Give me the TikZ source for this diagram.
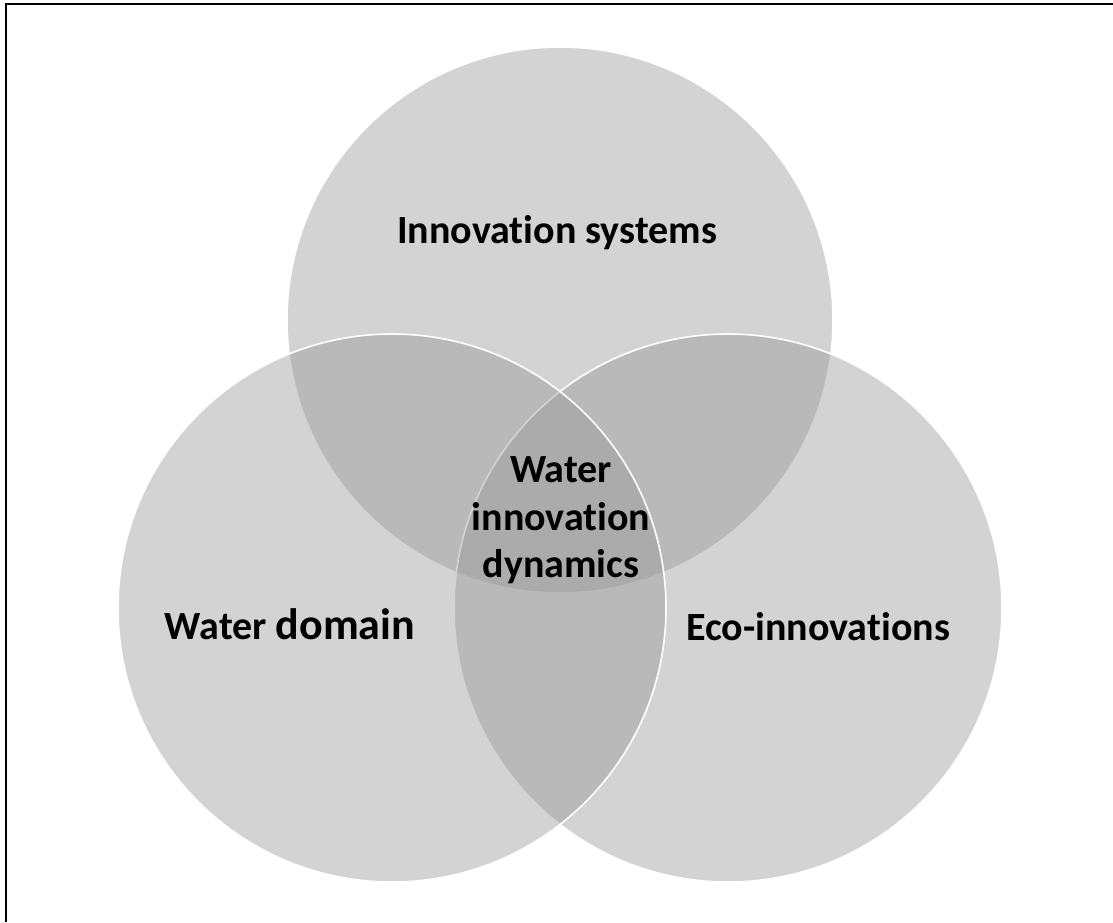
\documentclass[tikz,border=0pt]{standalone}
\usepackage{fontspec}
\setmainfont{Carlito}[Ligatures={NoCommon,NoRare,NoContextual}]
\begin{document}
\begin{tikzpicture}[x=1pt,y=-1pt,
  venn/.style={circle, minimum size=548pt, inner sep=0pt, fill=black!40,
    fill opacity=0.43, draw=white, draw opacity=1, line width=1.6pt},
  lbl/.style={font=\bfseries\fontsize{40}{48}\selectfont, text=black, align=center}]
  \useasboundingbox (0,0) rectangle (1113,922);
  \fill[white] (0,0) rectangle (1113,922);
  % frame edges
  \draw[line width=2pt] (6,922) -- (6,4.2) -- (1113,4.2);
  % the three sets
  \node[venn, minimum size=546pt] (top) at (560,320) {};
  \node[venn] (right) at (728,608) {};
  \node[venn] (left) at (392,608) {};
  % labels
  \node[lbl, anchor=base] (tl) at (557,243) {Innovation systems};
  \node[lbl, anchor=base] (ll) at (290,639) {Water {\fontsize{44}{48}\selectfont domain}};
  \node[lbl, anchor=base] (rl) at (818,640) {Eco-innovations};
  \node[lbl, anchor=base] (cl1) at (561,482) {Water};
  \node[lbl, anchor=base] (cl) at (561,530) {innovation};
  \node[lbl, anchor=base] (cl3) at (561,577) {dynamics};
\end{tikzpicture}
\end{document}
